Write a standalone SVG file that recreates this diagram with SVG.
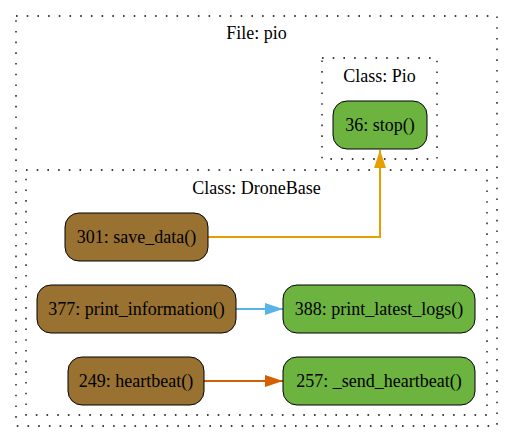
<svg xmlns="http://www.w3.org/2000/svg" width="513" height="443" viewBox="0 0 513 443">
<defs>
<style>
.cl{fill:none;stroke:#000;stroke-width:1.3;stroke-dasharray:1.6,9.1}
.br{fill:#997232;stroke:#000;stroke-width:1}
.gr{fill:#6db33f;stroke:#000;stroke-width:1}
.e{fill:none;stroke-width:2}
</style>
<marker id="aO" viewBox="0 0 18 12" refX="18" refY="6" markerWidth="18" markerHeight="12" markerUnits="userSpaceOnUse" orient="auto"><path d="M0,0L18,6L0,12z" fill="#e69f00"/></marker>
<marker id="aB" viewBox="0 0 18 12" refX="18" refY="6" markerWidth="18" markerHeight="12" markerUnits="userSpaceOnUse" orient="auto"><path d="M0,0L18,6L0,12z" fill="#56b4e9"/></marker>
<marker id="aR" viewBox="0 0 18 12" refX="18" refY="6" markerWidth="18" markerHeight="12" markerUnits="userSpaceOnUse" orient="auto"><path d="M0,0L18,6L0,12z" fill="#d55e00"/></marker>
</defs>
<rect width="513" height="443" fill="#fff"/>
<g font-family="Liberation Serif, Times New Roman, serif" font-size="18" text-anchor="middle" fill="#000">
<g id="cluster_file">
<rect class="cl" x="16" y="16" width="481" height="410"/>
<text x="256.5" y="39">File: pio</text>
</g>
<g id="cluster_pio">
<rect class="cl" x="322" y="58" width="115" height="101"/>
<text x="379.5" y="82">Class: Pio</text>
</g>
<g id="cluster_dronebase">
<rect class="cl" x="26" y="170" width="461" height="245"/>
<text x="256.5" y="194">Class: DroneBase</text>
</g>
<g id="connectors">
<path class="e" stroke="#e69f00" d="M208,237H380V150" marker-end="url(#aO)"/>
<path class="e" stroke="#56b4e9" d="M236,309H283" marker-end="url(#aB)"/>
<path class="e" stroke="#d55e00" d="M204,381H283" marker-end="url(#aR)"/>
</g>
<g id="node_stop">
<rect class="gr" x="333" y="101" width="94" height="48" rx="14"/>
<text x="380" y="131">36: stop()</text>
</g>
<g id="node_save_data">
<rect class="br" x="65" y="213" width="143" height="48" rx="14"/>
<text x="136.5" y="243">301: save_data()</text>
</g>
<g id="node_print_information">
<rect class="br" x="37" y="285" width="199" height="48" rx="14"/>
<text x="136.5" y="315">377: print_information()</text>
</g>
<g id="node_print_latest_logs">
<rect class="gr" x="283" y="285" width="192" height="48" rx="14"/>
<text x="379" y="315">388: print_latest_logs()</text>
</g>
<g id="node_heartbeat">
<rect class="br" x="68" y="357" width="136" height="48" rx="14"/>
<text x="136" y="387">249: heartbeat()</text>
</g>
<g id="node_send_heartbeat">
<rect class="gr" x="283" y="357" width="192" height="48" rx="14"/>
<text x="379" y="387">257: _send_heartbeat()</text>
</g>
</g>
</svg>
